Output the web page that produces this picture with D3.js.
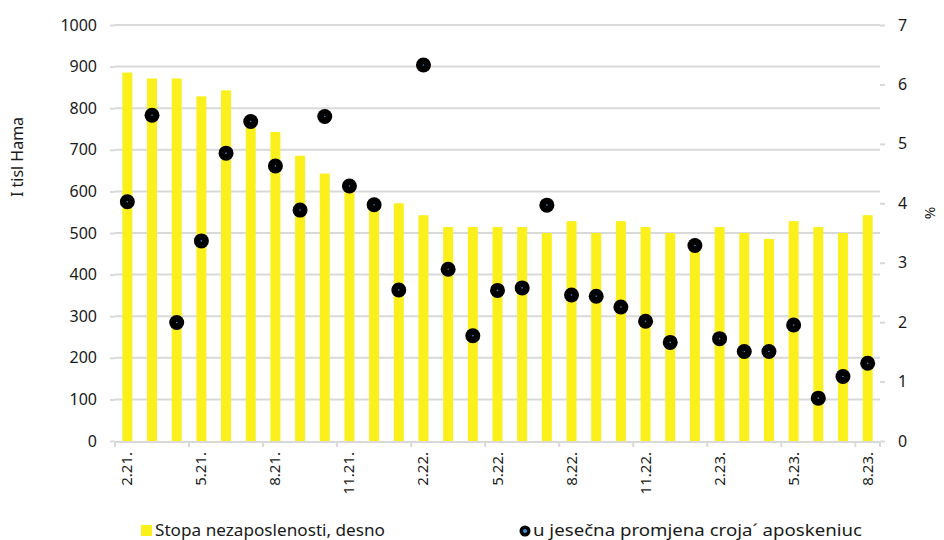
<!DOCTYPE html>
<html>
<head>
<meta charset="utf-8">
<script src="https://cdn.jsdelivr.net/npm/d3@7"></script>
<style>
  html, body { margin: 0; padding: 0; background: #fff; }
  svg { display: block; font-family: "Noto Sans", "Open Sans", sans-serif; }
</style>
</head>
<body>
<svg id="chart" width="944" height="540"></svg>
<script>
// Months Feb 2021 – Aug 2023
const months = ["2.21.","3.21.","4.21.","5.21.","6.21.","7.21.","8.21.","9.21.","10.21.","11.21.","12.21.",
  "1.22.","2.22.","3.22.","4.22.","5.22.","6.22.","7.22.","8.22.","9.22.","10.22.","11.22.","12.22.",
  "1.23.","2.23.","3.23.","4.23.","5.23.","6.23.","7.23.","8.23."];

// Unemployment rate, % (right axis)
const unemploymentRate = [6.2,6.1,6.1,5.8,5.9,5.4,5.2,4.8,4.5,4.3,4.0,
  4.0,3.8,3.6,3.6,3.6,3.6,3.5,3.7,3.5,3.7,3.6,3.5,
  3.3,3.6,3.5,3.4,3.7,3.6,3.5,3.8];

// Monthly change in employment, thousands (left axis)
const employmentChange = [575,783,285,481,692,768,661,555,780,613,568,
  363,904,413,253,362,368,567,351,348,322,288,237,
  470,246,215,215,279,103,155,187];

const leftTicks = [0,100,200,300,400,500,600,700,800,900,1000];
const rightTicks = [0,1,2,3,4,5,6,7];
const tickLabelMonths = ["2.21.","5.21.","8.21.","11.21.","2.22.","5.22.","8.22.","11.22.","2.23.","5.23.","8.23."];

const svg = d3.select("#chart");
const m = { left: 115, right: 880, top: 25, bottom: 441 };
const FONT = "Noto Sans, Open Sans, sans-serif";

const x = d3.scaleBand().domain(months).range([m.left, m.right]).paddingInner(0).paddingOuter(0);
const yL = d3.scaleLinear().domain([0, 1000]).range([m.bottom, m.top]);
const yR = d3.scaleLinear().domain([0, 7]).range([m.bottom, m.top]);

const grey = "#d9d9d9";
const textColor = "#1a1a1a";
const yellow = "#fcf01c";

// Horizontal gridlines
svg.append("g")
  .selectAll("line")
  .data(leftTicks.filter(d => d > 0))
  .join("line")
  .attr("x1", m.left).attr("x2", m.right)
  .attr("y1", d => yL(d)).attr("y2", d => yL(d))
  .attr("stroke", grey).attr("stroke-width", 2);

// Bars: unemployment rate
const barW = 10;
svg.append("g")
  .selectAll("rect")
  .data(months)
  .join("rect")
  .attr("x", d => x(d) + x.bandwidth() / 2 - barW / 2)
  .attr("width", barW)
  .attr("y", (d, i) => yR(unemploymentRate[i]))
  .attr("height", (d, i) => yR(0) - yR(unemploymentRate[i]))
  .attr("fill", yellow);

// Bottom axis line and tick marks every quarter
svg.append("line")
  .attr("x1", m.left).attr("x2", m.right)
  .attr("y1", m.bottom + 1).attr("y2", m.bottom + 1)
  .attr("stroke", grey).attr("stroke-width", 2);

svg.append("g")
  .selectAll("line")
  .data(months.filter((d, i) => i % 3 === 0).concat([null]))
  .join("line")
  .attr("x1", d => d === null ? m.right : x(d))
  .attr("x2", d => d === null ? m.right : x(d))
  .attr("y1", m.bottom).attr("y2", m.bottom + 6)
  .attr("stroke", grey).attr("stroke-width", 2);

// Left axis
const leftAxis = d3.axisLeft(yL).tickValues(leftTicks).tickFormat(d3.format("d")).tickSize(5).tickPadding(13);
const gL = svg.append("g").attr("transform", `translate(${m.left},0)`).call(leftAxis);
gL.select(".domain").remove();
gL.selectAll(".tick line").attr("stroke", grey).attr("stroke-width", 2);
gL.selectAll(".tick text").attr("font-size", 16).attr("fill", textColor).attr("font-family", FONT);

// Right axis
const rightAxis = d3.axisRight(yR).tickValues(rightTicks).tickFormat(d3.format("d")).tickSize(5).tickPadding(13);
const gR = svg.append("g").attr("transform", `translate(${m.right},0)`).call(rightAxis);
gR.select(".domain").remove();
gR.selectAll(".tick line").attr("stroke", grey).attr("stroke-width", 2);
gR.selectAll(".tick text").attr("font-size", 16).attr("fill", textColor).attr("font-family", FONT);

// X labels (rotated)
svg.append("g")
  .selectAll("text")
  .data(tickLabelMonths)
  .join("text")
  .attr("transform", d => `translate(${x(d) + x.bandwidth() / 2 + 5},${m.bottom + 11}) rotate(-90)`)
  .attr("text-anchor", "end")
  .attr("font-size", 15)
  .attr("font-family", FONT)
  .attr("fill", textColor)
  .text(d => d);

// Dots: monthly change in employment
const dots = svg.append("g");
dots.selectAll("circle.dot")
  .data(months)
  .join("circle")
  .attr("class", "dot")
  .attr("cx", d => x(d) + x.bandwidth() / 2)
  .attr("cy", (d, i) => yL(employmentChange[i]))
  .attr("r", 7.5)
  .attr("fill", "#000");
dots.selectAll("circle.core")
  .data(months)
  .join("circle")
  .attr("class", "core")
  .attr("cx", d => x(d) + x.bandwidth() / 2)
  .attr("cy", (d, i) => yL(employmentChange[i]))
  .attr("r", 0.8)
  .attr("fill", "#3b8fd6");

// Axis titles
svg.append("text")
  .attr("transform", "translate(23,157) rotate(-90)")
  .attr("text-anchor", "middle")
  .attr("font-size", 16)
  .attr("font-family", FONT)
  .attr("fill", textColor)
  .text("I  tisl Hama");

svg.append("text")
  .attr("transform", "translate(925,213) rotate(90)")
  .attr("text-anchor", "middle")
  .attr("font-size", 15)
  .attr("font-family", FONT)
  .attr("fill", textColor)
  .text("%");

// Legend
const lg = svg.append("g").attr("font-family", FONT);
lg.append("rect").attr("x", 141).attr("y", 525).attr("width", 11).attr("height", 11).attr("fill", yellow);
lg.append("text").attr("x", 155).attr("y", 536).attr("font-size", 17).attr("fill", textColor)
  .attr("textLength", 230).attr("lengthAdjust", "spacingAndGlyphs")
  .text("Stopa nezaposlenosti, desno");
lg.append("circle").attr("cx", 525).attr("cy", 531).attr("r", 5.5).attr("fill", "#000");
lg.append("circle").attr("cx", 525).attr("cy", 531).attr("r", 2).attr("fill", "#3b8fd6");
lg.append("text").attr("x", 533).attr("y", 536).attr("font-size", 17).attr("fill", textColor)
  .attr("textLength", 329).attr("lengthAdjust", "spacingAndGlyphs")
  .text("u jesečna promjena croja´ aposkeniuc");
</script>
</body>
</html>
